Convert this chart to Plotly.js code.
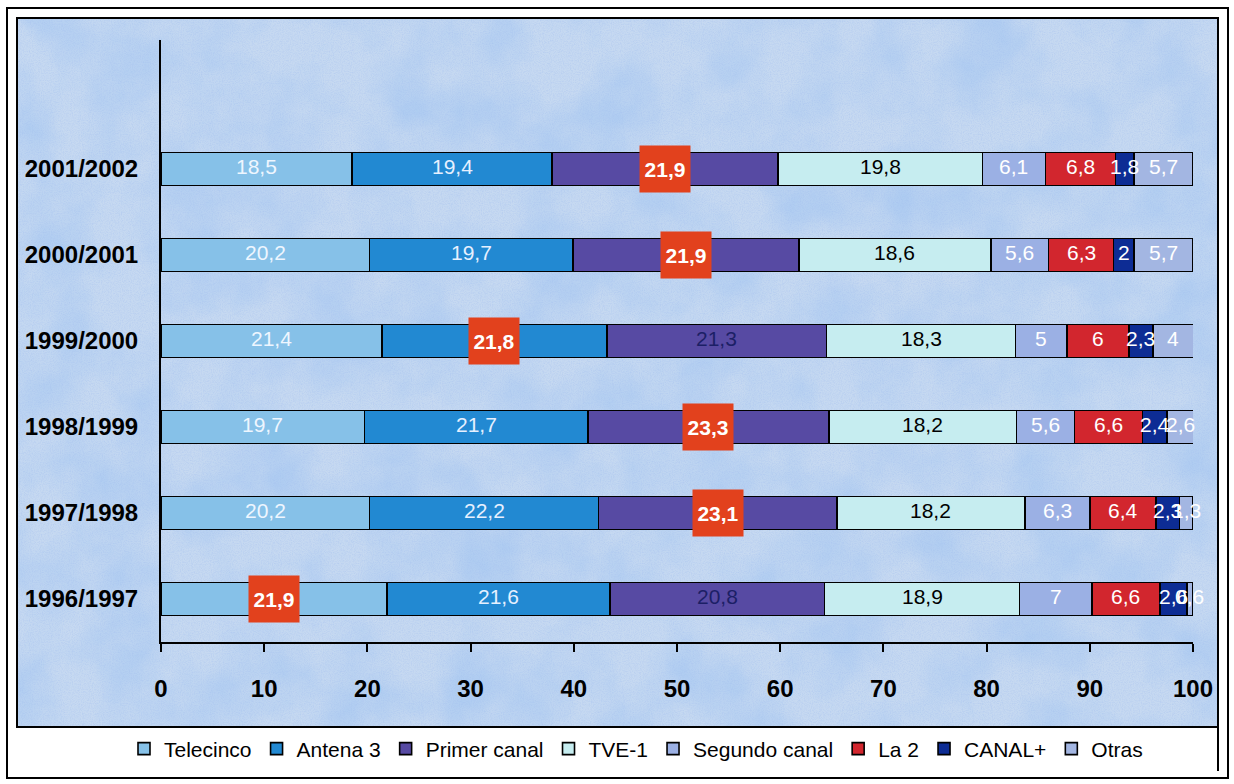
<!DOCTYPE html>
<html>
<head>
<meta charset="utf-8">
<script src="https://cdn.plot.ly/plotly-3.0.1.min.js"></script>
<style>
  html, body { margin: 0; padding: 0; background: #ffffff; }
  #chart { width: 1234px; height: 784px; }
</style>
</head>
<body>
<div id="chart"></div>
<script>
// Audience share by channel and season (%)
const seasons = ['1996/1997', '1997/1998', '1998/1999', '1999/2000', '2000/2001', '2001/2002'];
const channels = ['Telecinco', 'Antena 3', 'Primer canal', 'TVE-1', 'Segundo canal', 'La 2', 'CANAL+', 'Otras'];

const telecinco = [21.9, 20.2, 19.7, 21.4, 20.2, 18.5];
const antena3   = [21.6, 22.2, 21.7, 21.8, 19.7, 19.4];
const primer    = [20.8, 23.1, 23.3, 21.3, 21.9, 21.9];
const tve1      = [18.9, 18.2, 18.2, 18.3, 18.6, 19.8];
const segundo   = [7, 6.3, 5.6, 5, 5.6, 6.1];
const la2       = [6.6, 6.4, 6.6, 6, 6.3, 6.8];
const canalPlus = [2.6, 2.3, 2.4, 2.3, 2, 1.8];
const otras     = [0.6, 1.3, 2.6, 4, 5.7, 5.7];

const seriesValues = [telecinco, antena3, primer, tve1, segundo, la2, canalPlus, otras];

// styling per channel
const fillColors = ['#86c1e8', '#2289d2', '#574aa3', '#c6edf0', '#9bb0e4', '#d2262e', '#0d2c94', '#a3b6e2'];
const labelColors = ['#eef6ff', '#e6f0ff', '#1c1f66', '#000000', '#ffffff', '#ffffff', '#ffffff', '#ffffff'];

const FONT = 'Liberation Sans, Arial, sans-serif';

const traces = channels.map((name, i) => ({
  type: 'bar',
  orientation: 'h',
  name: name,
  y: seasons,
  x: seriesValues[i],
  width: 0.38,
  marker: { color: fillColors[i], line: { color: '#000000', width: 1.6 } },
  hoverinfo: 'x+name'
}));

// value labels: centred in each segment, the largest share of a season boxed in red
const fmt = v => String(v).replace('.', ',');
const annotations = [];
seasons.forEach((season, r) => {
  const rowMax = Math.max(...seriesValues.map(s => s[r]));
  let start = 0;
  seriesValues.forEach((s, i) => {
    const v = s[r];
    const mid = start + v / 2;
    start += v;
    if (v === rowMax) {
      annotations.push({
        x: mid, y: season, xref: 'x', yref: 'y', showarrow: false,
        text: '<b>' + fmt(v) + '</b>',
        font: { family: FONT, size: 21, color: '#ffffff' },
        bgcolor: '#e2411d', width: 50, height: 46, borderpad: 0
      });
    } else {
      annotations.push({
        x: mid, y: season, xref: 'x', yref: 'y', showarrow: false,
        text: fmt(v), yshift: 3,
        font: { family: FONT, size: 21, color: labelColors[i] }
      });
    }
  });
});

// page geometry helpers (pixel -> paper)
const W = 1234, H = 784;
const M = { l: 161, r: 41, t: 40, b: 142 };
const pw = W - M.l - M.r, ph = H - M.t - M.b;
const px = x => (x - M.l) / pw;
const py = y => (H - M.b - y) / ph;

// mottled blue backdrop
const bgSvg =
  "<svg xmlns='http://www.w3.org/2000/svg' width='1201' height='709' viewBox='0 0 1201 709'>" +
  "<filter id='n' x='0' y='0' width='100%' height='100%'>" +
  "<feTurbulence type='fractalNoise' baseFrequency='0.014' numOctaves='4' seed='7'/>" +
  "<feColorMatrix type='matrix' values='0 0 0 0 0.42  0 0 0 0 0.6  0 0 0 0 0.88  0 0 0 1.8 -0.62'/>" +
  "</filter>" +
  "<filter id='g' x='0' y='0' width='100%' height='100%'>" +
  "<feTurbulence type='fractalNoise' baseFrequency='0.9' numOctaves='2' seed='2'/>" +
  "<feColorMatrix type='matrix' values='0 0 0 0 0.35  0 0 0 0 0.5  0 0 0 0 0.85  0 0 0 1.2 -0.45'/>" +
  "</filter>" +
  "<rect width='1201' height='709' fill='#c6d9f1'/>" +
  "<rect width='1201' height='709' filter='url(#n)'/>" +
  "<rect width='1201' height='709' filter='url(#g)' opacity='0.6'/>" +
  "</svg>";

const shapes = [
  // outer frame
  { type: 'rect', xref: 'paper', yref: 'paper', x0: px(7), x1: px(1228), y0: py(8), y1: py(778),
    line: { color: '#000', width: 2 }, layer: 'below' },
  // chart area frame
  { type: 'rect', xref: 'paper', yref: 'paper', x0: px(17), x1: px(1218), y0: py(18), y1: py(727),
    line: { color: '#000', width: 2 }, layer: 'above' },
  // legend box right edge
  { type: 'line', xref: 'paper', yref: 'paper', x0: px(1218), x1: px(1218), y0: py(727), y1: py(771),
    line: { color: '#000', width: 2 } }
];

const layout = {
  width: W, height: H,
  margin: M,
  paper_bgcolor: '#ffffff',
  plot_bgcolor: 'rgba(0,0,0,0)',
  barmode: 'stack',
  bargap: 0,
  showlegend: true,
  font: { family: FONT, color: '#000' },
  xaxis: {
    range: [0, 100], dtick: 10, tick0: 0,
    showgrid: false, zeroline: false,
    showline: true, linecolor: '#000', linewidth: 2,
    ticks: 'outside', ticklen: 8, tickwidth: 2, tickcolor: '#000',
    ticklabelstandoff: 16,
    tickfont: { family: FONT, size: 24, color: '#000', weight: 'bold' },
    fixedrange: true
  },
  yaxis: {
    type: 'category', categoryorder: 'array', categoryarray: seasons,
    range: [-0.5, 6.5],
    showgrid: false, zeroline: false,
    showline: true, linecolor: '#000', linewidth: 2,
    ticks: '', ticklabelstandoff: 16,
    tickfont: { family: FONT, size: 24, color: '#000', weight: 'bold' },
    fixedrange: true
  },
  legend: {
    orientation: 'h', traceorder: 'normal',
    xref: 'container', yref: 'container',
    x: 124 / W, xanchor: 'left',
    y: 1 - 749 / H, yanchor: 'middle',
    font: { family: FONT, size: 21, color: '#000' },
    bgcolor: 'rgba(0,0,0,0)',
    itemwidth: 30, tracegroupgap: 0
  },
  images: [{
    source: 'data:image/svg+xml;charset=utf-8,' + encodeURIComponent(bgSvg),
    xref: 'paper', yref: 'paper',
    x: px(17), y: py(18), sizex: px(1218) - px(17), sizey: py(18) - py(727),
    xanchor: 'left', yanchor: 'top', sizing: 'stretch', layer: 'below'
  }],
  shapes: shapes,
  annotations: annotations
};

Plotly.newPlot('chart', traces, layout, { displayModeBar: false, staticPlot: true });
</script>
</body>
</html>
